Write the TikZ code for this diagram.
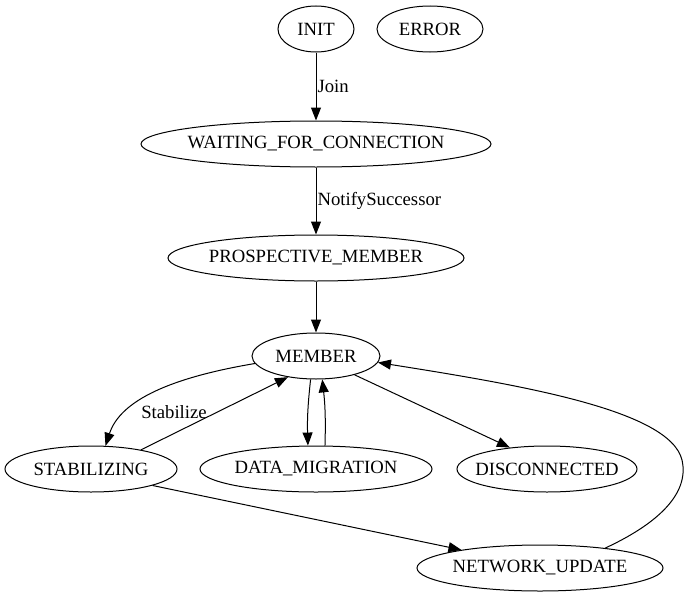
\documentclass[tikz,border=0pt]{standalone}
\usepackage{fontspec}
\setmainfont{Liberation Serif}
\usetikzlibrary{shapes.geometric}
\usetikzlibrary{arrows.meta}
\newcommand{\nm}[1]{\makebox[0pt]{#1}}

\begin{document}
\begin{tikzpicture}[x=1pt,y=-1pt,
    state/.style={draw, ellipse, line width=1pt, inner sep=0pt, minimum height=46pt,
      font=\fontsize{18.7}{22}\selectfont},
    edge/.style={line width=1pt, -{Triangle[length=13pt,width=10pt]}},
    lbl/.style={font=\fontsize{18.7}{22}\selectfont, inner sep=1pt}
    ]
\useasboundingbox (0,0) rectangle (691,597);

% states
\node[state, minimum width=76pt]  (init)    at (316,29)  {\nm{INIT}};
\node[state, minimum width=106pt] (error)   at (430,29)  {\nm{ERROR}};
\node[state, minimum width=350pt] (waiting) at (316,144) {\nm{WAITING\_FOR\_CONNECTION}};
\node[state, minimum width=296pt] (prosp)   at (316,258) {\nm{PROSPECTIVE\_MEMBER}};
\node[state, minimum width=128pt] (member)  at (316,356) {\nm{MEMBER}};
\node[state, minimum width=172pt] (stab)    at (91,469)  {\nm{STABILIZING}};
\node[state, minimum width=232pt] (datamig) at (316,469) {\nm{DATA\_MIGRATION}};
\node[state, minimum width=180pt] (disc)    at (547,469) {\nm{DISCONNECTED}};
\node[state, minimum width=246pt] (netupd)  at (540,568) {\nm{NETWORK\_UPDATE}};

% transitions
\draw[edge] (init) -- (waiting) node[midway, right, lbl] {Join};
\draw[edge] (waiting) -- (prosp) node[midway, right, lbl] {NotifySuccessor};
\draw[edge] (prosp) -- (member);

\draw[edge] (member.187) .. controls +(-83,14) and +(15,-46) .. (stab.58);
\node[lbl] (stablbl) at (174,412) {Stabilize};
\draw[edge] (stab.21) -- (member.217);

\draw[edge] (member.257) to[bend right=4] (datamig.109);
\draw[edge] (datamig.69) to[bend right=4] (member.285);
\draw[edge] (member.334) -- (disc.150);

\draw[edge] (stab.345) -- (netupd.167);
\draw[edge] (netupd.17) .. controls (655,525) and (690,495) .. (682,460)
    .. controls (670,410) and (520,385) .. (member.354);
\end{tikzpicture}
\end{document}
